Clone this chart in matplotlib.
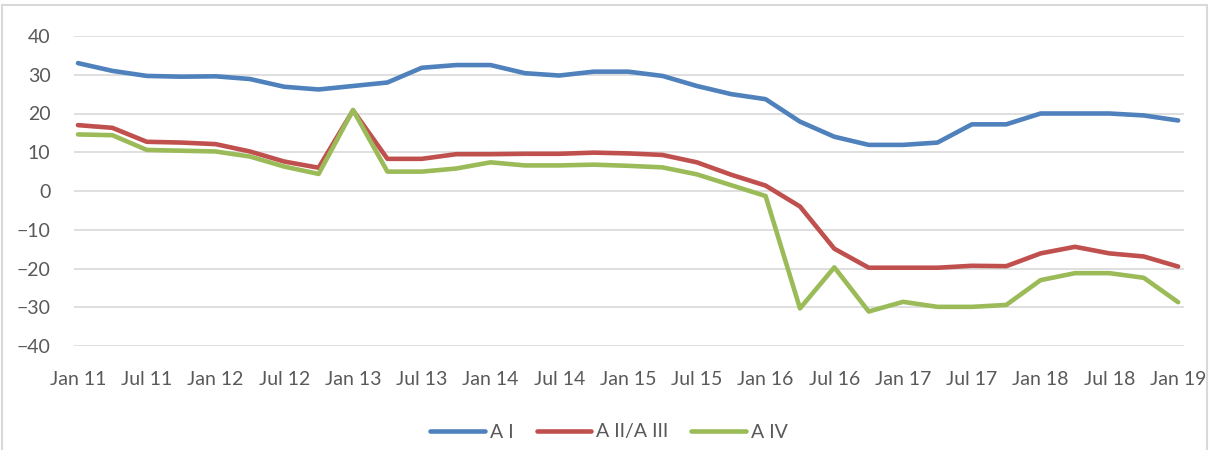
import matplotlib
matplotlib.use('Agg')
import matplotlib.pyplot as plt
from matplotlib.patches import Rectangle

# quarterly observations, Jan 11 .. Jan 19
quarters = [f"{m} {y}" for y in range(11, 19) for m in ('Jan', 'Apr', 'Jul', 'Oct')] + ['Jan 19']

a_i = [33.0, 31.0, 29.7, 29.5, 29.6, 28.9, 26.9, 26.2, 27.1, 28.0, 31.8,
       32.5, 32.5, 30.4, 29.8, 30.8, 30.8, 29.7, 27.1, 25.0, 23.7, 17.9,
       14.0, 11.9, 11.9, 12.5, 17.2, 17.2, 20.0, 20.0, 20.0, 19.5, 18.2]
a_ii_iii = [17.0, 16.3, 12.7, 12.5, 12.1, 10.2, 7.6, 6.0, 20.8, 8.3, 8.3,
            9.5, 9.5, 9.6, 9.6, 9.9, 9.7, 9.3, 7.4, 4.2, 1.4, -4.0,
            -14.9, -19.8, -19.8, -19.8, -19.3, -19.4, -16.1, -14.4, -16.1,
            -16.9, -19.5]
a_iv = [14.6, 14.4, 10.6, 10.4, 10.2, 8.9, 6.3, 4.4, 20.9, 5.0, 5.0,
        5.8, 7.4, 6.6, 6.6, 6.8, 6.5, 6.1, 4.3, 1.5, -1.3, -30.3,
        -19.7, -31.1, -28.6, -29.9, -29.9, -29.4, -23.0, -21.2, -21.2,
        -22.4, -28.7]

series = [
    ('A I', a_i, '#4F81BD'),
    ('A II/A III', a_ii_iii, '#C0504D'),
    ('A IV', a_iv, '#9BBB59'),
]

plt.rcParams['font.family'] = ['Lato', 'DejaVu Sans']
text_color = '#595959'
grid_color = '#D9D9D9'
fs = 14

W, H = 1212, 450
fig = plt.figure(figsize=(W / 100, H / 100), dpi=100)
ax = fig.add_axes([74 / W, 1 - 346 / H, (1184 - 74) / W, (346 - 36) / H])

x = list(range(len(quarters)))
for name, values, color in series:
    ax.plot(x, values, color=color, lw=3.3, label=name,
            solid_capstyle='round', solid_joinstyle='round')

ax.set_ylim(-40, 40)
ax.set_yticks(range(-40, 41, 10))
ax.set_xlim(-0.116, 32.17)
ax.set_xticks(x[::2])
ax.set_xticklabels(quarters[::2])
ax.grid(axis='y', color=grid_color, lw=1.2)
ax.set_axisbelow(True)
for s in ax.spines.values():
    s.set_visible(False)
ax.tick_params(length=0, colors=text_color, labelsize=fs)
ax.tick_params(axis='x', pad=18)
ax.tick_params(axis='y', pad=17)

ax.legend(loc='center', bbox_to_anchor=(609 / W, 1 - 432 / H),
          bbox_transform=fig.transFigure, ncol=3, frameon=False,
          fontsize=fs, labelcolor=text_color, handlelength=2.8,
          handletextpad=0.25, columnspacing=1.2)

fig.patches.append(Rectangle((2 / W, -0.05), 1205 / W, 1 - 5 / H + 0.05,
                             transform=fig.transFigure, fill=False,
                             edgecolor=grid_color, lw=1.5))

fig.savefig('out.png', dpi=100)
